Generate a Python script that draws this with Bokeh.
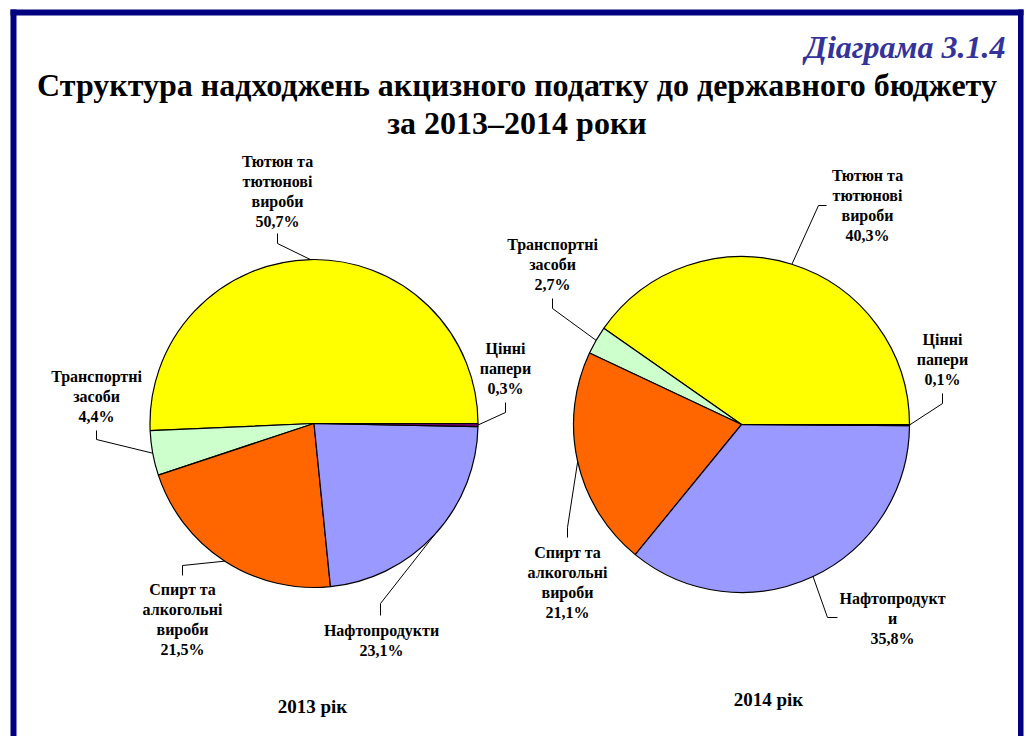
import numpy as np
from bokeh.plotting import figure
from bokeh.models import Range1d
from bokeh.core.properties import value
from bokeh.embed import file_html
from bokeh.resources import INLINE

# ---------------- data ----------------
categories = ["Тютюн та тютюнові вироби", "Транспортні засоби",
              "Спирт та алкогольні вироби", "Нафтопродукти", "Цінні папери"]
values_2013 = [50.7, 4.4, 21.5, 23.1, 0.3]
values_2014 = [40.3, 2.7, 21.1, 35.8, 0.1]
labels_2013 = ["Тютюн та\nтютюнові\nвироби", "Транспортні\nзасоби",
               "Спирт та\nалкогольні\nвироби", "Нафтопродукти", "Цінні\nпапери"]
labels_2014 = ["Тютюн та\nтютюнові\nвироби", "Транспортні\nзасоби",
               "Спирт та\nалкогольні\nвироби", "Нафтопродукт\nи", "Цінні\nпапери"]
colors = ["#FFFF00", "#CCFFCC", "#FF6600", "#9999FF", "#660066"]
years = ["2013 рік", "2014 рік"]
title_lines = ["Структура надходжень акцизного податку до державного бюджету",
               "за 2013–2014 роки"]
diagram_no = "Діаграма 3.1.4"

# ---------------- layout (page pixel coordinates) ----------------
W, H = 1024, 736
def dx(X): return X
def dy(Y): return H - Y
def tb(Y, size):  # text baseline correction
    return dy(Y - 0.35 * size)

pies = [
    dict(values=values_2013, labels=labels_2013, cx=313.5, cy=423, r=164,
         lab=[(277, 167), (96, 382), (182, 595), (381, 636), (505, 354)],
         elb=[[(277, 233), (277, 243)], [(96, 430), (96, 439)],
              [(182, 575), (182, 565)], [(380, 615), (380, 603)],
              [(505, 402), (505, 412)]],
         year_pos=(312, 713)),
    dict(values=values_2014, labels=labels_2014, cx=741, cy=424, r=168,
         lab=[(867, 181), (552, 250), (567, 558), (892, 604), (942, 345)],
         elb=[[(826, 205), (818, 205)], [(552, 298), (552, 308)],
              [(567, 537), (567, 527)], [(837, 617), (827, 617)],
              [(942, 393), (942, 403)]],
         year_pos=(768, 706)),
]
LINE = 19.7
FONT = value("Liberation Serif")

p = figure(width=W, height=H, output_backend="svg", toolbar_location=None,
           x_range=Range1d(0, W), y_range=Range1d(0, H), min_border=0)
p.axis.visible = False
p.grid.visible = False
p.outline_line_color = None
p.background_fill_color = "white"
p.border_fill_color = "white"

for pie in pies:
    vals = np.array(pie["values"], dtype=float)
    frac = vals / vals.sum()
    ends = np.cumsum(frac) * 2 * np.pi
    starts = ends - frac * 2 * np.pi
    mids = (starts + ends) / 2
    cx, cy = dx(pie["cx"]), dy(pie["cy"])
    r = pie["r"]
    p.wedge(x=cx, y=cy, radius=r, start_angle=starts, end_angle=ends,
            fill_color=colors, line_color="black", line_width=1.2,
            direction="anticlock")
    # leader lines
    xs, ys = [], []
    for (e1, e2), m in zip(pie["elb"], mids):
        ex, ey = cx + r * np.cos(m), cy + r * np.sin(m)
        xs.append([dx(e1[0]), dx(e2[0]), ex])
        ys.append([dy(e1[1]), dy(e2[1]), ey])
    p.multi_line(xs=xs, ys=ys, line_color="black", line_width=1)
    # labels
    tx, ty, tt = [], [], []
    for lbl, v, (lx, ly) in zip(pie["labels"], pie["values"], pie["lab"]):
        lines = lbl.split("\n") + [f"{v:.1f}".replace(".", ",") + "%"]
        for i, s in enumerate(lines):
            tx.append(dx(lx)); ty.append(tb(ly + i * LINE, 16)); tt.append(s)
    p.text(x=tx, y=ty, text=tt, text_font=FONT, text_font_style="bold",
           text_font_size="16px", text_align="center",
           text_baseline="alphabetic", text_color="black")

# year captions
p.text(x=[dx(pp["year_pos"][0]) for pp in pies], y=[tb(pp["year_pos"][1], 19) for pp in pies],
       text=years, text_font=FONT, text_font_style="bold", text_font_size="19px",
       text_align="center", text_baseline="alphabetic", text_color="black")

# titles
p.text(x=[dx(516.5), dx(516.5)], y=[tb(96, 32), tb(134, 32)], text=title_lines,
       text_font=FONT, text_font_style="bold", text_font_size="32px",
       text_align="center", text_baseline="alphabetic", text_color="black")
p.text(x=[dx(1005)], y=[tb(58, 32)], text=[diagram_no], text_font=FONT,
       text_font_style="bold italic", text_font_size="32px", text_align="right",
       text_baseline="alphabetic", text_color="#333399")

# frame
navy = "#000080"
p.quad(left=[dx(10), dx(10), dx(1017.5)], right=[dx(1023), dx(16), dx(1023)],
       top=[dy(9), dy(9), dy(9)], bottom=[dy(15), dy(760), dy(760)],
       fill_color=navy, line_color=None)

open("out.html", "w").write(file_html(p, INLINE))
